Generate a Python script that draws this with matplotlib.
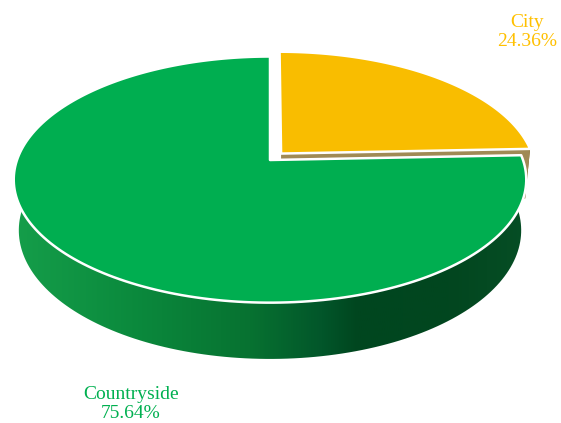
import numpy as np
import matplotlib.pyplot as plt
from matplotlib.patches import Polygon
from matplotlib.colors import LinearSegmentedColormap

# data
labels = ['City', 'Countryside']
shares = [24.36, 75.64]
top_colors = ['#F9BD00', '#00AE50']
text_colors = ['#FFC000', '#00B050']
explode = [0.075, 0.0]

# simple perspective camera looking down at the pie (pixel units on screen)
tilt = np.radians(28.3)
dist = 5.53
focal = 253 * dist
cx, cy = 270, 160
depth = 0.23


def project(X, Y, Z):
    s, c = np.sin(tilt), np.cos(tilt)
    yc = Y * s + Z * c
    zc = dist + Y * c - Z * s
    return cx + focal * X / zc, cy - focal * yc / zc


fig = plt.figure(figsize=(5.61, 4.23), dpi=100)
ax = fig.add_axes([0, 0, 1, 1])
ax.set_xlim(0, 561)
ax.set_ylim(423, 0)
ax.axis('off')

side_cmap = LinearSegmentedColormap.from_list('side', [
    (0.00, '#159E4A'), (0.23, '#0B8A3D'), (0.46, '#077231'),
    (0.60, '#02562A'), (0.67, '#00461F'), (0.85, '#02461F'), (1.00, '#064E25')])

yellow_side = '#6E5210'
yellow_face = '#A08A55'

# slices run clockwise from 12 o'clock
bounds = np.concatenate([[0], np.cumsum(shares)]) / sum(shares) * 360

for i in range(len(shares)):
    a0, a1 = bounds[i], bounds[i + 1]
    th = np.radians(90 - np.linspace(a0, a1, 200))
    mid = np.radians(90 - (a0 + a1) / 2)
    ox, oy = explode[i] * np.cos(mid) * 0.85, explode[i] * np.sin(mid)
    X = ox + np.cos(th)
    Y = oy + np.sin(th)

    # outer wall
    tx, ty = project(X, Y, 0)
    bx, by = project(X, Y, -depth)
    wall = np.column_stack([np.r_[tx, bx[::-1]], np.r_[ty, by[::-1]]])
    if i == 1:
        poly = Polygon(wall, closed=True, facecolor='none', edgecolor='none')
        ax.add_patch(poly)
        grad = np.linspace(0, 1, 256).reshape(1, -1)
        img = ax.imshow(grad, cmap=side_cmap, aspect='auto',
                        extent=(tx.min(), tx.max(), 423, 0), zorder=2)
        img.set_clip_path(poly)
    else:
        ax.add_patch(Polygon(wall, closed=True, facecolor=yellow_side,
                             edgecolor='none', zorder=1))
        # cut face at the end of the slice (faces the viewer)
        ex, ey = project(np.array([ox, X[-1], X[-1], ox]),
                         np.array([oy, Y[-1], Y[-1], oy]),
                         np.array([0, 0, -depth, -depth]))
        ax.add_patch(Polygon(np.column_stack([ex, ey]), closed=True,
                             facecolor=yellow_face, edgecolor='none', zorder=1))

    # top face
    px, py = project(np.r_[ox, X], np.r_[oy, Y], 0)
    ax.add_patch(Polygon(np.column_stack([px, py]), closed=True,
                         facecolor=top_colors[i], edgecolor='white',
                         linewidth=1.8, joinstyle='round', zorder=1 + 2 * i))

# labels
ax.text(527, 32, f'{labels[0]}\n{shares[0]:.2f}%', color=text_colors[0],
        fontsize=14, family='Liberation Serif', ha='center', va='center',
        linespacing=1.2)
ax.text(131, 404, f'{labels[1]}\n{shares[1]:.2f}%', color=text_colors[1],
        fontsize=14, family='Liberation Serif', ha='center', va='center',
        linespacing=1.2)

fig.savefig('out.png', dpi=100)
